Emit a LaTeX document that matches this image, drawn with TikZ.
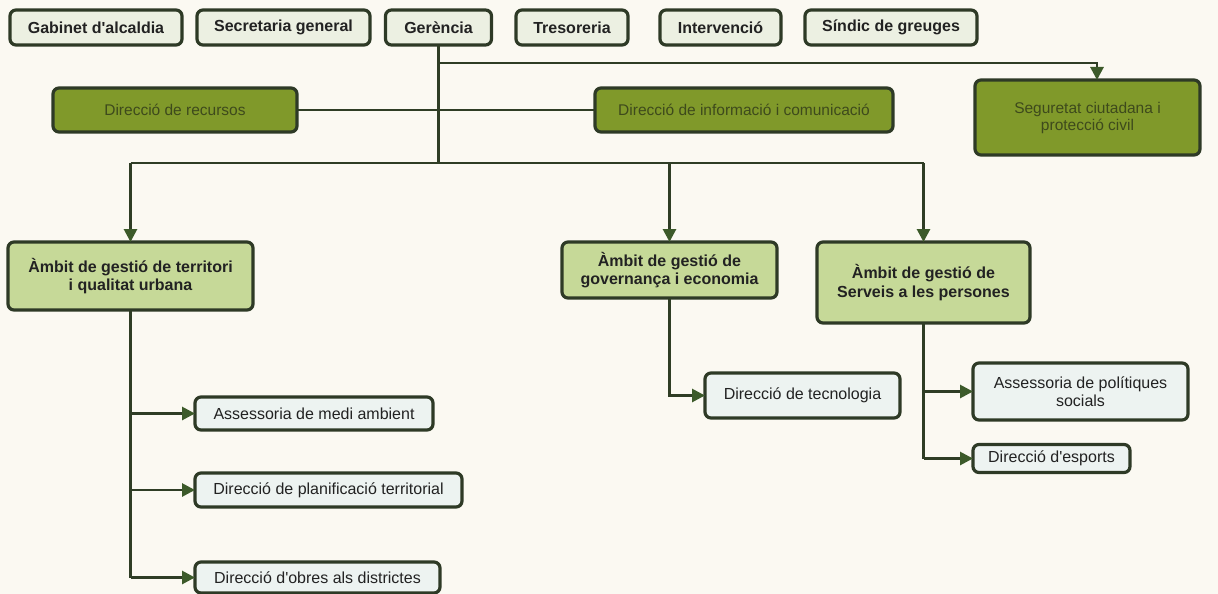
\documentclass[tikz,border=0pt]{standalone}
\usepackage{fontspec}
\setmainfont{Liberation Sans}[Ligatures=TeXOff]
\usetikzlibrary{arrows.meta}
\definecolor{bgc}{HTML}{FBF9F2}
\definecolor{bordc}{HTML}{2E3A26}
\definecolor{linec}{HTML}{2F3D25}
\definecolor{arrc}{HTML}{3C5A2A}
\definecolor{topfill}{HTML}{ECF0E2}
\definecolor{darkfill}{HTML}{80992A}
\definecolor{darktext}{HTML}{3E4A1C}
\definecolor{ambfill}{HTML}{C6D998}
\definecolor{lowfill}{HTML}{EDF3F1}
\definecolor{txt}{HTML}{222222}
\tikzset{
  basebox/.style={draw=bordc, line width=3.2pt, rounded corners=6pt, inner sep=2pt, outer sep=0pt, align=center},
  topbox/.style={basebox, fill=topfill, text=txt, font=\bfseries\fontsize{16}{18}\selectfont, minimum height=35pt},
  darkbox/.style={basebox, fill=darkfill, text=darktext, font=\fontsize{15.5}{17}\selectfont},
  ambbox/.style={basebox, fill=ambfill, text=txt, font=\bfseries\fontsize{16}{18.5}\selectfont},
  lowbox/.style={basebox, fill=lowfill, text=txt, font=\fontsize{16}{18.5}\selectfont},
  conn/.style={draw=linec, line width=2.8pt, line join=miter},
  arr/.style={conn, -{Triangle[length=13pt,width=13pt,color=arrc]}}
}
\begin{document}
\begin{tikzpicture}[x=1pt,y=-1pt]
\fill[bgc] (0,0) rectangle (1218,594);
\useasboundingbox (0,0) rectangle (1218,594);
% top row
\node[topbox, minimum width=172pt] (gab) at (96,27.5) {Gabinet d'alcaldia};
\node[topbox, minimum width=173pt] (sec) at (283.5,27.5) {Secretaria general};
\node[topbox, minimum width=106pt] (ger) at (438.5,27.5) {Gerència};
\node[topbox, minimum width=112pt] (tre) at (572,27.5) {Tresoreria};
\node[topbox, minimum width=121pt] (int) at (720.5,27.5) {Intervenció};
\node[topbox, minimum width=172pt] (sin) at (891,27.5) {Síndic de greuges};
% dark boxes
\node[darkbox, minimum width=244pt, minimum height=44pt] (rec) at (175,110) {Direcció de recursos};
\node[darkbox, minimum width=298pt, minimum height=44pt] (inf) at (744,110) {Direcció de informació i comunicació};
\node[darkbox, minimum width=225pt, minimum height=75pt] (seg) at (1087.5,117.5) {Seguretat ciutadana i\\protecció civil};
% ambits
\node[ambbox, minimum width=245pt, minimum height=68pt] (ter) at (130.5,276) {Àmbit de gestió de territori\\i qualitat urbana};
\node[ambbox, minimum width=215pt, minimum height=56pt] (gov) at (669.5,270) {Àmbit de gestió de\\governança i economia};
\node[ambbox, minimum width=213pt, minimum height=81pt] (ser) at (923.5,282.5) {Àmbit de gestió de\\Serveis a les persones};
% lower boxes
\node[lowbox, minimum width=238pt, minimum height=33pt] (med) at (314,413.5) {Assessoria de medi ambient};
\node[lowbox, minimum width=267pt, minimum height=34pt] (pla) at (328.5,490) {Direcció de planificació territorial};
\node[lowbox, minimum width=245pt, minimum height=31pt] (obr) at (317.5,577.5) {Direcció d'obres als districtes};
\node[lowbox, minimum width=195pt, minimum height=45pt] (tec) at (802.5,395.5) {Direcció de tecnologia};
\node[lowbox, minimum width=215pt, minimum height=57pt] (pol) at (1080.5,391.5) {Assessoria de polítiques\\socials};
\node[lowbox, minimum width=157pt, minimum height=28pt] (esp) at (1051.5,458.5) {Direcció d'esports};
% connectors
\coordinate (j1) at (438.5,63);
\coordinate (j2) at (1097,63);
\coordinate (h) at (438.5,163);
\draw[conn] (ger.south) -- (h);
\draw[arr] (j1) -- (j2) -- (j2 |- seg.north);
\draw[conn] (rec.east) -- (inf.west);
\draw[conn] (ter.north |- h) -- (ser.north |- h);
\draw[arr] (ter.north |- h) -- (ter.north);
\draw[arr] (gov.north |- h) -- (gov.north);
\draw[arr] (ser.north |- h) -- (ser.north);
\draw[conn] (ter.south) -- (ter.south |- obr.west);
\draw[arr] (ter.south |- med.west) -- (med.west);
\draw[arr] (ter.south |- pla.west) -- (pla.west);
\draw[arr] (ter.south |- obr.west) -- (obr.west);
\draw[arr] (gov.south) |- (tec.west);
\draw[conn] (ser.south) -- (ser.south |- esp.west);
\draw[arr] (ser.south |- pol.west) -- (pol.west);
\draw[arr] (ser.south |- esp.west) -- (esp.west);
\end{tikzpicture}
\end{document}
